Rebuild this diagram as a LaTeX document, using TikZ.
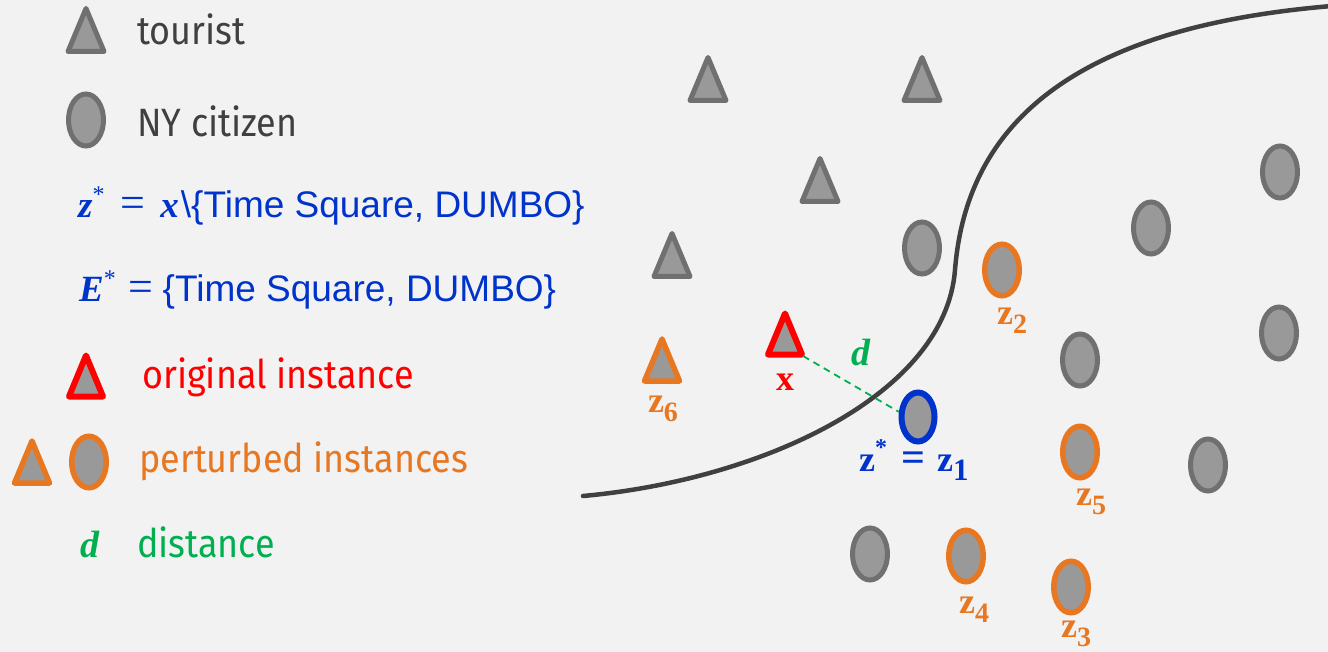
\documentclass[tikz,border=0pt]{standalone}
\usepackage{fontspec}
\usetikzlibrary{shapes.geometric}
\newfontfamily\lsans{Liberation Sans}
\newfontfamily\lserif{Liberation Serif}
\newfontfamily\cond[FakeStretch=0.91]{Fira Sans}
\definecolor{bg}{HTML}{F2F2F2}
\definecolor{gstroke}{HTML}{707070}
\definecolor{gfill}{HTML}{999999}
\definecolor{gtext}{HTML}{404040}
\definecolor{myblue}{HTML}{0033CC}
\definecolor{myred}{HTML}{FF0000}
\definecolor{myorange}{HTML}{E87722}
\definecolor{mygreen}{HTML}{00B050}
\definecolor{curvecol}{HTML}{404040}
% triangle: #1 centre, #2 style, #3 half base, #4 half height
\newcommand\mytri[4]{\draw[shapeline,#2,shift={(#1)}] (0,-#4) -- (#3,#4) -- (-#3,#4) -- cycle;}
\newcommand\zl[2][28]{z\raisebox{-0.25em}{\fontsize{#1}{#1}\selectfont #2}}
\begin{document}
\begin{tikzpicture}[x=1pt,y=-1pt,
  shapeline/.style={line width=5pt, line join=round, fill=gfill},
  tourist/.style={draw=gstroke},
  orig/.style={draw=myred, line width=6pt},
  pert/.style={draw=myorange, line width=5.5pt},
  cit/.style={ellipse, minimum width=35pt, minimum height=52pt, inner sep=0pt, line width=5pt, fill=gfill, draw=gstroke},
  pcit/.style={cit, draw=myorange, line width=5.5pt, minimum width=34.5pt, minimum height=51.5pt},
  bcit/.style={cit, draw=myblue, line width=6pt, minimum width=33pt, minimum height=49pt},
  legtext/.style={anchor=base west, inner sep=0pt, font=\cond\fontsize{39.5}{48}\selectfont},
  blue/.style={anchor=base west, inner sep=0pt, text=myblue, font=\lsans\fontsize{37}{40}\selectfont},
  lab/.style={anchor=base, inner sep=0pt, font=\lserif\bfseries\fontsize{36}{40}\selectfont},
  dist/.style={draw=mygreen, line width=1.8pt, dash pattern=on 7pt off 5pt},
  boundary/.style={draw=curvecol, line width=4.5pt, line cap=round}]
\useasboundingbox (0,0) rectangle (1328,652);
\fill[bg] (0,0) rectangle (1328,652);

% ---- legend ----
\coordinate (lt) at (86,30);
\mytri{lt}{tourist}{18}{21.5}
\node[legtext, text=gtext] (ltt) at (137,45) {tourist};
\node[cit] (lc) at (86,120) {};
\node[legtext, text=gtext] (lct) at (137,137) {NY citizen};
\node[blue] (lz) at (78,218)
  {{\lserif\bfseries\itshape z}\raisebox{0.42em}{\lserif\fontsize{24}{24}\selectfont *}\hspace{16pt}{\lserif\fontsize{44}{44}\selectfont =}\hspace{15pt}{\lserif\bfseries\itshape x}\hspace{2pt}\textbackslash\{Time Square, DUMBO\}};
\node[blue] (le) at (79,302)
  {{\lserif\bfseries\itshape E}\raisebox{0.42em}{\lserif\fontsize{24}{24}\selectfont *}\hspace{13pt}{\lserif\fontsize{44}{44}\selectfont =}\hspace{9pt}\{Time Square, DUMBO\}};
\coordinate (lo) at (86,376);
\mytri{lo}{orig}{17}{20.5}
\node[legtext, text=myred] (lot) at (142,388) {original instance};
\coordinate (lp) at (32,462);
\mytri{lp}{pert}{17.5}{21}
\node[pcit] (lpc) at (89,462) {};
\node[legtext, text=myorange] (lpt) at (139,472) {perturbed instances};
\node[anchor=base west, inner sep=0pt, text=mygreen, font=\lserif\bfseries\itshape\fontsize{38}{40}\selectfont] (ld) at (80,557) {d};
\node[legtext, text=mygreen] (ldt) at (137,557) {distance};

% ---- boundary ----
\draw[boundary] (583,496) .. controls (760,480) and (945,396) .. (955,270)
                .. controls (966,130) and (1065,28) .. (1332,6);

% ---- tourists ----
\coordinate (t1) at (708,79);
\coordinate (t2) at (922,79);
\coordinate (t3) at (820,180);
\coordinate (t4) at (672,255);
\mytri{t1}{tourist}{18}{21.5}
\mytri{t2}{tourist}{18}{21.5}
\mytri{t3}{tourist}{18}{21.5}
\mytri{t4}{tourist}{18}{21.5}

% ---- citizens ----
\node[cit] (c1) at (922,248) {};
\node[cit] (c2) at (1280,172) {};
\node[cit] (c3) at (1151,228) {};
\node[cit] (c4) at (1279,333) {};
\node[cit] (c5) at (1080,360) {};
\node[cit] (c6) at (1208,465) {};
\node[cit] (c7) at (870,554) {};

% ---- perturbed ----
\node[pcit] (z2) at (1002,270) {};
\node[pcit] (z5) at (1080,452) {};
\node[pcit] (z4) at (966,556) {};
\node[pcit] (z3) at (1071,587) {};
\coordinate (z6) at (662,360);
\mytri{z6}{pert}{17.5}{21}
\node[bcit] (z1) at (918,417) {};

% ---- original ----
\coordinate (xc) at (785,334);
\mytri{xc}{orig}{17}{20.5}
\draw[dist] ([shift={(18,22)}]xc) -- (z1.165);

% ---- labels ----
\node[lab, text=myorange] (lz2) at (1012,325) {\zl{2}};
\node[lab, text=myorange] (lz5) at (1091,505) {\zl{5}};
\node[lab, text=myorange] (lz4) at (974,613) {\zl{4}};
\node[lab, text=myorange] (lz3) at (1076,637) {\zl{3}};
\node[lab, text=myorange] (lz6) at (663,412) {\zl{6}};
\node[lab, text=myred] (lx) at (785,390) {x};
\node[anchor=base, inner sep=0pt, text=mygreen, font=\lserif\bfseries\itshape\fontsize{38}{40}\selectfont] (ldd) at (861,366) {d};
\node[anchor=base west, inner sep=0pt, text=myblue, font=\lserif\bfseries\fontsize{36}{40}\selectfont] (lz1) at (859,471)
  {z\raisebox{0.42em}{\lserif\fontsize{24}{24}\selectfont *}\hspace{14pt}{\fontsize{42}{42}\selectfont =}\hspace{12pt}\zl[31]{1}};
\end{tikzpicture}
\end{document}
